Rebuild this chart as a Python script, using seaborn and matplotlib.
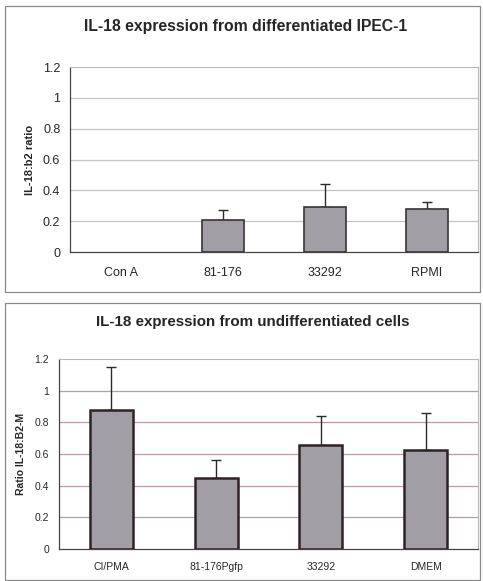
import numpy as np
import pandas as pd
import seaborn as sns
import matplotlib.pyplot as plt
from matplotlib.patches import Rectangle

# top panel: differentiated IPEC-1
top_groups = ["Con A", "81-176", "33292", "RPMI"]
top_means = [0.0, 0.205, 0.295, 0.28]
top_err = [0.0, 0.07, 0.145, 0.045]

# bottom panel: undifferentiated cells
bot_groups = ["CI/PMA", "81-176Pgfp", "33292", "DMEM"]
bot_means = [0.88, 0.45, 0.655, 0.625]
bot_err = [0.27, 0.115, 0.185, 0.235]

yticks = [0, 0.2, 0.4, 0.6, 0.8, 1.0, 1.2]
ytick_labels = ["0", "0.2", "0.4", "0.6", "0.8", "1", "1.2"]

sns.set_theme(style="white")
plt.rcParams['font.family'] = ['Liberation Sans', 'DejaVu Sans']

W, H = 483, 581
fig = plt.figure(figsize=(W / 100, H / 100), dpi=100)


def px_axes(x0, y0, x1, y1):
    # pixel box (top-left origin) -> figure coords
    return fig.add_axes([x0 / W, 1 - y1 / H, (x1 - x0) / W, (y1 - y0) / H])


def draw_panel(ax, groups, means, err, grid_color, ylabel, tick_size, label_size,
               edge_color, edge_width, xpad):
    df = pd.DataFrame({"group": groups, "value": means})
    sns.barplot(data=df, x="group", y="value", color="#a19ea6", edgecolor=edge_color,
                linewidth=edge_width, width=0.41, saturation=1, ax=ax, zorder=3)
    for p in ax.patches:
        if p.get_height() == 0:
            p.set_linewidth(0)
    for i, (m, e) in enumerate(zip(means, err)):
        if e > 0:
            ax.errorbar(i, m, yerr=[[0], [e]], fmt="none", ecolor="#2a2a2a",
                        elinewidth=1.0, capsize=3.5, capthick=1.0, zorder=2)
    ax.set_xlim(-0.5, len(groups) - 0.5)
    ax.set_ylim(0, 1.2)
    ax.set_yticks(yticks)
    ax.set_yticklabels(ytick_labels, fontsize=tick_size)
    ax.set_xticks(range(len(groups)))
    ax.set_xticklabels(groups, fontsize=tick_size)
    ax.set_xticks(np.arange(-0.5, len(groups), 1.0), minor=True)
    ax.tick_params(axis="x", which="major", length=0, pad=xpad)
    ax.tick_params(axis="x", which="minor", length=4, width=0.8, color="#555555", direction="out")
    ax.tick_params(axis="y", which="major", length=4, width=0.8, color="#555555", direction="out", pad=3)
    for y in yticks[1:-1]:
        ax.axhline(y, color=grid_color, linewidth=0.9, zorder=1)
    ax.set_xlabel("")
    ax.set_ylabel(ylabel, fontsize=label_size, fontweight="bold", labelpad=6)
    for side in ["left", "bottom"]:
        ax.spines[side].set_color("#444444")
        ax.spines[side].set_linewidth(0.9)
    for side in ["top", "right"]:
        ax.spines[side].set_color("#b8b8b8")
        ax.spines[side].set_linewidth(0.8)


# panel frames
fig.patches.append(Rectangle((5 / W, 1 - 292 / H), 475 / W, 286 / H, transform=fig.transFigure,
                             fill=False, edgecolor="#8a8a8a", linewidth=0.9))
fig.patches.append(Rectangle((5 / W, 1 - 580 / H), 475 / W, 277 / H, transform=fig.transFigure,
                             fill=False, edgecolor="#8a8a8a", linewidth=0.9))

ax1 = px_axes(70, 67, 478, 252)
draw_panel(ax1, top_groups, top_means, top_err, "#c4c4c4", "IL-18:b2 ratio", 9, 8,
           "#3a3434", 1.2, 11)
fig.text(246 / W, 1 - 27 / H, "IL-18 expression from differentiated IPEC-1",
         ha="center", va="center", fontsize=11.3, fontweight="bold")

ax2 = px_axes(59, 359, 478, 549)
draw_panel(ax2, bot_groups, bot_means, bot_err, "#bf9aa2", "Ratio IL-18:B2-M", 7.5, 7.5,
           "#2e2226", 1.8, 9)
fig.text(253 / W, 1 - 322 / H, "IL-18 expression from undifferentiated cells",
         ha="center", va="center", fontsize=10.9, fontweight="bold")

fig.savefig("out.png", dpi=100)
